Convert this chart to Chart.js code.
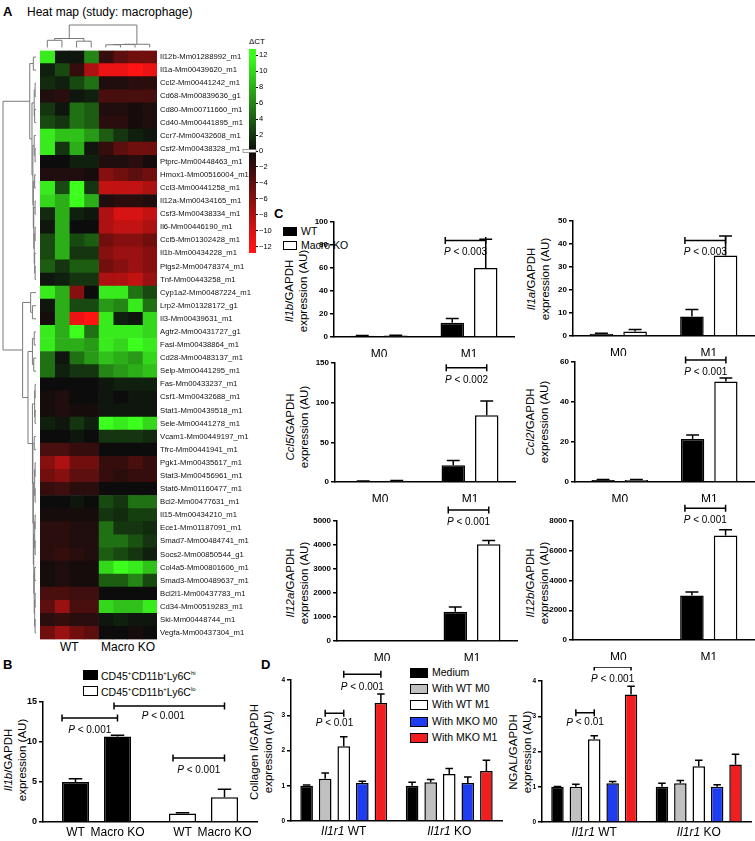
<!DOCTYPE html>
<html>
<head>
<meta charset="utf-8">
<script src="https://cdn.jsdelivr.net/npm/chart.js@4.4.0/dist/chart.umd.min.js"></script>
<style>
  body { margin: 0; width: 755px; height: 841px; position: relative; overflow: hidden; background: #fff;
         font-family: Arial, "Liberation Sans", Helvetica, sans-serif; color: #000; }
  canvas, .t { position: absolute; }
  .t { white-space: nowrap; line-height: 1; }
  .pl { font-weight: bold; font-size: 13px; }
  .yt { transform: translate(-50%, -50%) rotate(-90deg); font-size: 11.5px; text-align: center; line-height: 14px; }
  .sw { position: absolute; border: 1.5px solid #000; box-sizing: border-box; }
  .lg { font-size: 10.5px; }
</style>
</head>
<body>
<div class="t pl" style="left:3px;top:5px">A</div>
<div class="t" style="left:27px;top:6px;font-size:12px">Heat map (study: macrophage)</div>
<div class="t" style="left:249px;top:38px;font-size:8px">ΔCT</div>
<div class="t" style="left:60px;top:641px;font-size:12px">WT</div>
<div class="t" style="left:101px;top:641px;font-size:12px">Macro KO</div>

<div class="t pl" style="left:3px;top:658px">B</div>
<div class="sw" style="left:83px;top:670px;width:15px;height:10px;background:#000"></div>
<div class="t lg" style="left:101px;top:670px">CD45<sup style="font-size:6px">+</sup>CD11b<sup style="font-size:6px">+</sup>Ly6C<sup style="font-size:6px">hi</sup></div>
<div class="sw" style="left:83px;top:686px;width:15px;height:10px;background:#fff"></div>
<div class="t lg" style="left:101px;top:686px">CD45<sup style="font-size:6px">+</sup>CD11b<sup style="font-size:6px">+</sup>Ly6C<sup style="font-size:6px">lo</sup></div>
<div class="t yt" style="left:15px;top:760px"><i>Il1b</i>/GAPDH<br>expression (AU)</div>

<div class="t pl" style="left:274px;top:207px">C</div>
<div class="sw" style="left:283px;top:227px;width:14px;height:9px;background:#000"></div>
<div class="t lg" style="left:301px;top:226px">WT</div>
<div class="sw" style="left:283px;top:241px;width:14px;height:9px;background:#fff"></div>
<div class="t lg" style="left:301px;top:240px">Macro KO</div>
<div class="t yt" style="left:296px;top:291px"><i>Il1b</i>/GAPDH<br>expression (AU)</div>
<div class="t yt" style="left:538px;top:279px"><i>Il1a</i>/GAPDH<br>expression (AU)</div>
<div class="t yt" style="left:297px;top:427px"><i>Ccl5</i>/GAPDH<br>expression (AU)</div>
<div class="t yt" style="left:537px;top:422px"><i>Ccl2</i>/GAPDH<br>expression (AU)</div>
<div class="t yt" style="left:297px;top:583px"><i>Il12a</i>/GAPDH<br>expression (AU)</div>
<div class="t yt" style="left:537px;top:583px"><i>Il12b</i>/GAPDH<br>expression (AU)</div>

<div class="t pl" style="left:261px;top:658px">D</div>
<div class="sw" style="left:410px;top:668px;width:18px;height:10px;background:#000"></div>
<div class="t lg" style="left:432px;top:667px">Medium</div>
<div class="sw" style="left:410px;top:684px;width:18px;height:10px;background:#c0c0c0"></div>
<div class="t lg" style="left:432px;top:683px">With WT M0</div>
<div class="sw" style="left:410px;top:700px;width:18px;height:10px;background:#fff"></div>
<div class="t lg" style="left:432px;top:699px">With WT M1</div>
<div class="sw" style="left:410px;top:717px;width:18px;height:10px;background:#1f3df0"></div>
<div class="t lg" style="left:432px;top:716px">With MKO M0</div>
<div class="sw" style="left:410px;top:733px;width:18px;height:10px;background:#f01e1e"></div>
<div class="t lg" style="left:432px;top:732px">With MKO M1</div>
<div class="t yt" style="left:261px;top:752px">Collagen I/GAPDH<br>expression (AU)</div>
<div class="t yt" style="left:520px;top:752px">NGAL/GAPDH<br>expression (AU)</div>

<script>
// ---------- data ----------
const genes = [
  'Il12b-Mm01288992_m1', 'Il1a-Mm00439620_m1', 'Ccl2-Mm00441242_m1', 'Cd68-Mm00839636_g1',
  'Cd80-Mm00711660_m1', 'Cd40-Mm00441895_m1', 'Ccr7-Mm00432608_m1', 'Csf2-Mm00438328_m1',
  'Ptprc-Mm00448463_m1', 'Hmox1-Mm00516004_m1', 'Ccl3-Mm00441258_m1', 'Il12a-Mm00434165_m1',
  'Csf3-Mm00438334_m1', 'Il6-Mm00446190_m1', 'Ccl5-Mm01302428_m1', 'Il1b-Mm00434228_m1',
  'Ptgs2-Mm00478374_m1', 'Tnf-Mm00443258_m1', 'Cyp1a2-Mm00487224_m1', 'Lrp2-Mm01328172_g1',
  'Il3-Mm00439631_m1', 'Agtr2-Mm00431727_g1', 'Fasl-Mm00438864_m1', 'Cd28-Mm00483137_m1',
  'Selp-Mm00441295_m1', 'Fas-Mm00433237_m1', 'Csf1-Mm00432688_m1', 'Stat1-Mm00439518_m1',
  'Sele-Mm00441278_m1', 'Vcam1-Mm00449197_m1', 'Tfrc-Mm00441941_m1', 'Pgk1-Mm00435617_m1',
  'Stat3-Mm00456961_m1', 'Stat6-Mm01160477_m1', 'Bcl2-Mm00477631_m1', 'Il15-Mm00434210_m1',
  'Ece1-Mm01187091_m1', 'Smad7-Mm00484741_m1', 'Socs2-Mm00850544_g1', 'Col4a5-Mm00801606_m1',
  'Smad3-Mm00489637_m1', 'Bcl2l1-Mm00437783_m1', 'Cd34-Mm00519283_m1', 'Ski-Mm00448744_m1',
  'Vegfa-Mm00437304_m1'
];
// delta CT, 4 WT columns then 4 Macro KO columns
const dct = [
  [11, 0.5, 0.5, 6, -2, -4, -5, -5],
  [1, 3, -2, -8, -11, -11, -12, -11],
  [1.5, 1, 3, 5, -1, -1, -1.5, -1.5],
  [-1, -1.5, 0.5, 1, -3, -3, -3, -3],
  [2, 0.5, 5, 4, -1, -1, -0.5, -1],
  [3, 2, 5, 4, -1.5, -1.5, -0.5, -1],
  [11, 9, 9, 7, 4, 2, 1, 0.5],
  [11, 2, 8, 0.5, -2, -4, -5, -5],
  [0, 0, 1, 1, -1, -1, -1.5, -0.5],
  [-1, -1, -1, -0.5, -6, -5, -4, -5],
  [11, 3, 12, 2, -9, -9, -9, -8],
  [10, 8, 12, 8, -1, -1.5, -1.5, -1],
  [1.5, 8, 1, 0.5, -8, -10, -10, -9],
  [0.5, 8, 0, 0, -8, -9, -9, -8],
  [3, 8, 3, 4, -5, -6, -6, -5],
  [3, 8, 2, 2, -6, -7, -7, -6],
  [4, 2, 4, 4, -5, -6, -7, -6],
  [0.5, 1, 2, 2, -8, -8, -9, -7],
  [11, 8, -6, 0, 11, 11, 5, 3],
  [0.5, 8, 3, 3, 7, 6, 11, 5],
  [-0.5, 8, -11, -12, 11, 1, 0.5, 10],
  [11, 8, 12, 5, 11, 11, 11, 10],
  [11, 8, 8, 7, 11, 10, 12, 11],
  [5, 0.5, 5, 7, 9, 8, 7, 10],
  [5, 1, 2, 2, 6, 7, 8, 9],
  [0, 0, 0, 0, 0.5, 1, 1, 1],
  [-0.5, -1, 0, 0, 0.5, 0, 0.5, 0.5],
  [-0.5, -1, -0.5, -0.5, 0.5, 0.5, 0.5, 0.5],
  [1, 0.5, 2, 1, 12, 11, 12, 10],
  [0, 0, 0.5, 0, 2, 2, 2, 1.5],
  [-3, -3, -2, -2, 0, 0, 0, 0],
  [-6, -8, -5, -5, -2, -2, -3, -2],
  [-5, -6, -4, -4, -2, -1.5, -2, -2],
  [-2, -2.5, -1.5, -1.5, 0, 0, 0, 0],
  [0, 0, 0.5, 0, 3, 2, 5, 5],
  [-0.5, -0.5, -0.5, -0.5, 2, 1.5, 2.5, 2.5],
  [-1.5, -1.5, -1, -1, 5, 2, 2, 1.5],
  [-1.5, -1.5, -1, -1, 5, 5, 3.5, 2],
  [-1.5, -2, -1.5, -1, 4, 3, 2, 1],
  [-0.5, -1, -0.5, -0.5, 10, 12, 11, 9],
  [-0.5, -1, -0.5, -0.5, 4, 4, 6, 3],
  [-3, -3, -2.5, -2.5, 0, 0, 0, 0],
  [-4, -7, -3, -3, 10, 9, 9, 11],
  [-1.5, -2, -1.5, -1.5, 0.5, 1, 0.5, 0.5],
  [-5, -7, -5, -4, 0, 0, -0.5, 0]
];
const ctTicks = [12, 10, 8, 6, 4, 2, 0, -2, -4, -6, -8, -10, -12];
const ctRange = [-12.8, 12.8];

// dendrograms: [left, right, height]; leaves are row / column indices
const rowTreeA = [[0, 1, 3], [[[2, 3, 1], [4, 5, 1.5], 2], [[6, [7, 8, 1], 2], [[9, 10, 1.5], [[11, 12, 1], [[13, 14, 1], [15, [16, 17, 1], 1.5], 2], 2.5], 3], 3.5], 4.5], 7];
const rowTreeC = [[[25, 26, 1], [27, 28, 1], 1.5], [[29, 30, 2], [[[31, 32, 1], [33, 34, 1], 1.5], [[[35, 36, 1], [37, 38, 1], 1.5], [[39, 40, 1.5], [[41, 42, 1], [43, 44, 1], 1.5], 2], 2.5], 3], 3.5], 4];
const rowTreeB = [[18, [19, 20, 4], 6], [[[21, 22, 2], [23, 24, 2.5], 4], rowTreeC, 9], 15];
const rowTree = [rowTreeA, rowTreeB, 37];
const colTree = [[[0, 1, 8], [2, 3, 7], 10], [[[4, 5, 3], 6, 3.3], 7, 3.6], 25];

// panel B (groups: Ly6C hi = black, Ly6C lo = white)
const bGroups = ['Ly6Chi', 'Ly6Clo'];
const bGenotypes = ['WT', 'Macro KO'];
const bWT = [5.0, 1.05], bWTsem = [0.4, 0.12];
const bKO = [10.7, 3.1], bKOsem = [0.15, 1.0];

// panel C (WT = black, Macro KO = white)
const cGroups = ['M0', 'M1'];
const il1bWT = [1.0, 12.5], il1bWTsem = [0.2, 3.5], il1bKO = [1.2, 60], il1bKOsem = [0.3, 25];
const il1aWT = [1.0, 8.5], il1aWTsem = [0.2, 3], il1aKO = [2.0, 35], il1aKOsem = [0.8, 8.5];
const ccl5WT = [1.0, 21], ccl5WTsem = [0.2, 6], ccl5KO = [1.5, 84], ccl5KOsem = [0.3, 18];
const ccl2WT = [1.0, 21.5], ccl2WTsem = [0.2, 2], ccl2KO = [1.0, 50.3], ccl2KOsem = [0.2, 1.7];
const il12aWT = [0, 1220], il12aWTsem = [0, 200], il12aKO = [0, 4030], il12aKOsem = [0, 160];
const il12bWT = [0, 2990], il12bWTsem = [0, 230], il12bKO = [0, 7030], il12bKOsem = [0, 380];

// panel D
const dGroups = ['WT', 'KO'];
const dSeries = ['Medium', 'With WT M0', 'With WT M1', 'With MKO M0', 'With MKO M1'];
const dColors = ['#000000', '#c0c0c0', '#ffffff', '#1f3df0', '#f01e1e'];
const colVals = [[1.0, 1.0], [1.2, 1.1], [2.12, 1.33], [1.08, 1.08], [3.35, 1.42]];
const colSem = [[0.02, 0.1], [0.16, 0.08], [0.27, 0.16], [0.05, 0.17], [0.25, 0.3]];
const ngalVals = [[1.0, 1.0], [1.0, 1.1], [2.35, 1.58], [1.1, 1.0], [3.62, 1.63]];
const ngalSem = [[0.01, 0.1], [0.07, 0.08], [0.1, 0.17], [0.05, 0.06], [0.23, 0.29]];

// ---------- setup ----------
const FONT = 'Arial, "Liberation Sans", Helvetica, sans-serif';
Chart.defaults.animation = false;
Chart.defaults.responsive = false;
Chart.defaults.devicePixelRatio = 1;
Chart.defaults.font.family = FONT;
Chart.defaults.color = '#000';
Chart.defaults.plugins.legend.display = false;
Chart.defaults.plugins.tooltip.enabled = false;

function addCanvas(x, y, w, h) {
  const c = document.createElement('canvas');
  c.width = w; c.height = h;
  c.style.left = x + 'px'; c.style.top = y + 'px';
  document.body.appendChild(c);
  return c;
}

function colorOf(v) {
  const t = Math.min(Math.abs(v) / 12, 1);
  if (v >= 0) return `rgb(${Math.round(12 + t * 48)},${Math.round(12 + t * 243)},${Math.round(12 + t * 18)})`;
  return `rgb(${Math.round(12 + t * 243)},${Math.round(12 + t * 8)},${Math.round(12 + t * 8)})`;
}

function mixText(ctx, parts, cx, cy, size) {
  let w = 0;
  parts.forEach(p => { ctx.font = (p.i ? 'italic ' : '') + size + 'px ' + FONT; w += ctx.measureText(p.t).width; });
  let x = cx - w / 2;
  ctx.textBaseline = 'middle'; ctx.textAlign = 'left'; ctx.fillStyle = '#000';
  parts.forEach(p => {
    ctx.font = (p.i ? 'italic ' : '') + size + 'px ' + FONT;
    ctx.fillText(p.t, x, cy);
    x += ctx.measureText(p.t).width;
  });
}

// error bars (upper only), from a dataset's own "err" list
const errPlugin = {
  id: 'errs',
  afterDatasetsDraw(chart, args, opts) {
    const ctx = chart.ctx;
    chart.data.datasets.forEach((ds, di) => {
      if (!ds.err) return;
      chart.getDatasetMeta(di).data.forEach((bar, i) => {
        const e = ds.err[i];
        if (!e) return;
        const y1 = chart.scales.y.getPixelForValue(ds.data[i] + e);
        const w = bar.width * (opts.cap || 0.55) / 2;
        ctx.save();
        ctx.strokeStyle = '#000'; ctx.lineWidth = 1.5;
        ctx.beginPath();
        ctx.moveTo(bar.x, bar.y); ctx.lineTo(bar.x, y1);
        ctx.moveTo(bar.x - w, y1); ctx.lineTo(bar.x + w, y1);
        ctx.stroke();
        ctx.restore();
      });
    });
  }
};

// significance brackets
const bracketPlugin = {
  id: 'brackets',
  afterDraw(chart, args, opts) {
    const ctx = chart.ctx;
    (opts.list || []).forEach(b => {
      const p0 = chart.getDatasetMeta(b.from[0]).data[b.from[1]];
      const p1 = chart.getDatasetMeta(b.to[0]).data[b.to[1]];
      const x0 = p0.x + (b.dx0 || 0), x1 = p1.x + (b.dx1 || 0);
      const y = chart.scales.y.getPixelForValue(b.y);
      ctx.save();
      ctx.strokeStyle = '#000'; ctx.lineWidth = 1.5;
      ctx.beginPath();
      ctx.moveTo(x0, y); ctx.lineTo(x1, y);
      ctx.moveTo(x0, y - 3.5); ctx.lineTo(x0, y + 3.5);
      ctx.moveTo(x1, y - 3.5); ctx.lineTo(x1, y + 3.5);
      ctx.stroke();
      mixText(ctx, [{ t: 'P', i: true }, { t: ' < ' + b.p }], (x0 + x1) / 2 + (b.tx || 0), y + (b.ty || 12), 10);
      ctx.restore();
    });
  }
};

// text under the axis: group labels (italic gene) or one label per bar
const underLabelPlugin = {
  id: 'underLabels',
  afterDraw(chart, args, opts) {
    const bottom = chart.chartArea.bottom + 11;
    if (opts.groups) {
      opts.groups.forEach((g, i) => {
        mixText(chart.ctx, [{ t: 'Il1r1', i: true }, { t: ' ' + g }], chart.scales.x.getPixelForValue(i), bottom, 12);
      });
    }
    if (opts.perBar) {
      opts.perBar.forEach((name, di) => {
        chart.getDatasetMeta(di).data.forEach(bar => mixText(chart.ctx, [{ t: name }], bar.x, bottom, 12));
      });
    }
  }
};

function barPanel(o) {
  const yw = o.yw || 30, xh = 20, pt = o.padTop || 12;
  const left = o.plotLeft - yw, top = o.plotTop - pt;
  const cv = addCanvas(left, top, o.plotRight - left + 1, o.plotBottom - top + xh);
  return new Chart(cv, {
    type: 'bar',
    data: { labels: o.labels, datasets: o.datasets },
    options: {
      layout: { padding: { top: pt, right: 1, left: 0, bottom: 0 } },
      datasets: { bar: { borderColor: '#000', borderWidth: 1.5, borderSkipped: 'bottom',
        categoryPercentage: o.catPct, barPercentage: o.barPct } },
      scales: {
        x: {
          grid: { display: false },
          border: { color: '#000', width: 1.5 },
          ticks: { display: !o.under, font: { size: 12 }, padding: 2 },
          afterFit: s => { s.height = xh; }
        },
        y: {
          min: 0, max: o.yMax,
          ticks: { stepSize: o.yStep, font: { size: o.tickSize || 8, weight: 'bold' }, padding: 2, callback: v => String(v) },
          grid: { drawOnChartArea: false, color: '#000', tickLength: 4, lineWidth: 1.5 },
          border: { color: '#000', width: 1.5 },
          afterFit: s => { s.width = yw; }
        }
      },
      plugins: {
        errs: { cap: o.cap },
        brackets: { list: o.brackets || [] },
        underLabels: o.under || {}
      }
    },
    plugins: [errPlugin, bracketPlugin, underLabelPlugin]
  });
}

function twoSeries(a, aSem, b, bSem, colors) {
  return [
    { data: a, err: aSem, backgroundColor: colors[0] },
    { data: b, err: bSem, backgroundColor: colors[1] }
  ];
}

// ---------- A: heat map ----------
function drawTree(ctx, node, leafPos, base, k, vertical) {
  if (typeof node === 'number') return { p: leafPos(node), d: base };
  const a = drawTree(ctx, node[0], leafPos, base, k, vertical);
  const b = drawTree(ctx, node[1], leafPos, base, k, vertical);
  const d = base - node[2] * k;
  ctx.beginPath();
  if (!vertical) {
    ctx.moveTo(a.d, a.p); ctx.lineTo(d, a.p); ctx.lineTo(d, b.p); ctx.lineTo(b.d, b.p);
  } else {
    ctx.moveTo(a.p, a.d); ctx.lineTo(a.p, d); ctx.lineTo(b.p, d); ctx.lineTo(b.p, b.d);
  }
  ctx.stroke();
  return { p: (a.p + b.p) / 2, d };
}

const dendroPlugin = {
  id: 'dendro',
  afterDraw(chart) {
    const { ctx, chartArea: a, scales } = chart;
    ctx.save();
    ctx.strokeStyle = '#7a7a7a'; ctx.lineWidth = 1;
    const lb = a.left - 4;
    drawTree(ctx, rowTree, i => scales.y.getPixelForValue(i), lb, (lb - 3) / rowTree[2], false);
    const tb = a.top - 3;
    drawTree(ctx, colTree, c => scales.x.getPixelForValue(c + 0.5), tb, (tb - 25) / colTree[2], true);
    ctx.restore();
  }
};

new Chart(addCanvas(0, 0, 252, 648), {
  type: 'bar',
  data: {
    labels: genes,
    datasets: dct[0].map((_, c) => ({
      data: genes.map(() => 1),
      backgroundColor: dct.map(r => colorOf(r[c])),
      borderWidth: 0, barPercentage: 1, categoryPercentage: 1
    }))
  },
  options: {
    indexAxis: 'y',
    layout: { padding: { left: 40, top: 50.5, bottom: 8.5, right: 0 } },
    scales: {
      x: { stacked: true, display: false, min: 0, max: dct[0].length },
      y: {
        stacked: true, position: 'right',
        grid: { display: false, drawTicks: false }, border: { display: false },
        ticks: { autoSkip: false, font: { size: 7.7 }, color: '#111', padding: 3 },
        afterFit: s => { s.width = 95; }
      }
    }
  },
  plugins: [dendroPlugin]
});

// colour key
const zeroMark = {
  id: 'zeroMark',
  afterDraw(chart) {
    const { ctx, chartArea: a } = chart;
    const y = chart.scales.y.getPixelForValue(0);
    ctx.save();
    ctx.fillStyle = '#fff'; ctx.strokeStyle = '#666'; ctx.lineWidth = 0.6;
    ctx.fillRect(a.left - 6, y - 1.5, a.right - a.left + 6, 3);
    ctx.strokeRect(a.left - 6, y - 1.5, a.right - a.left + 6, 3);
    ctx.restore();
  }
};
new Chart(addCanvas(236, 40, 40, 222), {
  type: 'bar',
  data: {
    labels: [''],
    datasets: [{
      data: [ctRange],
      barPercentage: 1, categoryPercentage: 1, borderWidth: 0,
      backgroundColor: c => {
        const ch = c.chart;
        if (!ch.chartArea) return '#000';
        const ys = ch.scales.y;
        const y0 = ys.getPixelForValue(ctRange[1]), y1 = ys.getPixelForValue(ctRange[0]);
        const g = ch.ctx.createLinearGradient(0, y0, 0, y1);
        ctTicks.forEach(v => g.addColorStop((ys.getPixelForValue(v) - y0) / (y1 - y0), colorOf(v)));
        g.addColorStop(0, colorOf(ctRange[1]));
        g.addColorStop(1, colorOf(ctRange[0]));
        return g;
      }
    }]
  },
  options: {
    layout: { padding: { left: 13, top: 9, bottom: 9, right: 0 } },
    scales: {
      x: { display: false },
      y: {
        position: 'right', min: ctRange[0], max: ctRange[1],
        afterBuildTicks: s => { s.ticks = ctTicks.map(v => ({ value: v })); },
        ticks: { font: { size: 7.5 }, padding: 1, callback: v => (v < 0 ? '\u2212' + (-v) : String(v)) },
        grid: { drawOnChartArea: false, color: '#000', tickLength: 2 },
        border: { display: false },
        afterFit: s => { s.width = 20; }
      }
    }
  },
  plugins: [zeroMark]
});

// ---------- B ----------
barPanel({
  plotLeft: 43, plotRight: 257, plotTop: 702, plotBottom: 822, yMax: 15, yStep: 5, tickSize: 9, padTop: 22,
  labels: bGroups, catPct: 0.785, barPct: 0.643, cap: 0.5,
  datasets: twoSeries(bWT, bWTsem, bKO, bKOsem, [['#000', '#fff'], ['#000', '#fff']]),
  under: { perBar: bGenotypes },
  brackets: [
    { from: [0, 0], to: [1, 0], y: 13, p: '0.001', dx0: -13.5 },
    { from: [1, 0], to: [1, 1], y: 14.5, p: '0.001', dx0: -3.5, tx: -6, ty: 10 },
    { from: [0, 1], to: [1, 1], y: 8.0, p: '0.001', dx0: -9.5 }
  ]
});

// ---------- C ----------
const bw = ['#000', '#fff'];
const cCommon = { labels: cGroups, catPct: 0.744, barPct: 0.7, cap: 0.55, padTop: 14 };
barPanel(Object.assign({}, cCommon, {
  plotLeft: 334, plotRight: 514, plotTop: 222, plotBottom: 337, yMax: 100, yStep: 20,
  datasets: twoSeries(il1bWT, il1bWTsem, il1bKO, il1bKOsem, bw),
  brackets: [{ from: [0, 1], to: [1, 1], y: 84, p: '0.003', dx0: -7 }]
}));
barPanel(Object.assign({}, cCommon, {
  plotLeft: 573, plotRight: 754, plotTop: 221, plotBottom: 336, yMax: 50, yStep: 10,
  datasets: twoSeries(il1aWT, il1aWTsem, il1aKO, il1aKOsem, bw),
  brackets: [{ from: [0, 1], to: [1, 1], y: 41.5, p: '0.003', dx0: -7 }]
}));
barPanel(Object.assign({}, cCommon, {
  plotLeft: 335, plotRight: 515, plotTop: 363, plotBottom: 482, yMax: 150, yStep: 50,
  datasets: twoSeries(ccl5WT, ccl5WTsem, ccl5KO, ccl5KOsem, bw),
  brackets: [{ from: [0, 1], to: [1, 1], y: 144, p: '0.002', dx0: -7 }]
}));
barPanel(Object.assign({}, cCommon, {
  plotLeft: 575, plotRight: 754, plotTop: 362, plotBottom: 482, yMax: 60, yStep: 20,
  datasets: twoSeries(ccl2WT, ccl2WTsem, ccl2KO, ccl2KOsem, bw),
  brackets: [{ from: [0, 1], to: [1, 1], y: 61, p: '0.001', dx0: -7 }]
}));
barPanel(Object.assign({}, cCommon, {
  plotLeft: 337, plotRight: 517, plotTop: 521, plotBottom: 641, yMax: 5000, yStep: 1000, yw: 36, padTop: 24,
  datasets: twoSeries(il12aWT, il12aWTsem, il12aKO, il12aKOsem, bw),
  brackets: [{ from: [0, 1], to: [1, 1], y: 5460, p: '0.001', dx0: -7 }]
}));
barPanel(Object.assign({}, cCommon, {
  plotLeft: 573, plotRight: 754, plotTop: 521, plotBottom: 640, yMax: 8000, yStep: 2000, yw: 36, padTop: 24,
  datasets: twoSeries(il12bWT, il12bWTsem, il12bKO, il12bKOsem, bw),
  brackets: [{ from: [0, 1], to: [1, 1], y: 8850, p: '0.001', dx0: -7 }]
}));

// ---------- D ----------
function dSets(vals, sem) {
  return dSeries.map((name, s) => ({ label: name, data: vals[s], err: sem[s], backgroundColor: dColors[s] }));
}
const dCommon = { labels: dGroups, under: { groups: dGroups }, catPct: 0.88, barPct: 0.68, cap: 0.6, padTop: 14, yStep: 1, yMax: 4, tickSize: 6.5, yw: 24 };
barPanel(Object.assign({}, dCommon, {
  plotLeft: 291, plotRight: 502, plotTop: 680, plotBottom: 821,
  datasets: dSets(colVals, colSem),
  brackets: [
    { from: [1, 0], to: [2, 0], y: 3.06, p: '0.01', ty: 10 },
    { from: [2, 0], to: [4, 0], y: 4.16, p: '0.001', ty: 13 }
  ]
}));
barPanel(Object.assign({}, dCommon, {
  plotLeft: 542, plotRight: 751, plotTop: 681, plotBottom: 822,
  datasets: dSets(ngalVals, ngalSem),
  brackets: [
    { from: [1, 0], to: [2, 0], y: 3.1, p: '0.01', ty: 10 },
    { from: [2, 0], to: [4, 0], y: 4.4, p: '0.001', ty: 12 }
  ]
}));
</script>
</body>
</html>
